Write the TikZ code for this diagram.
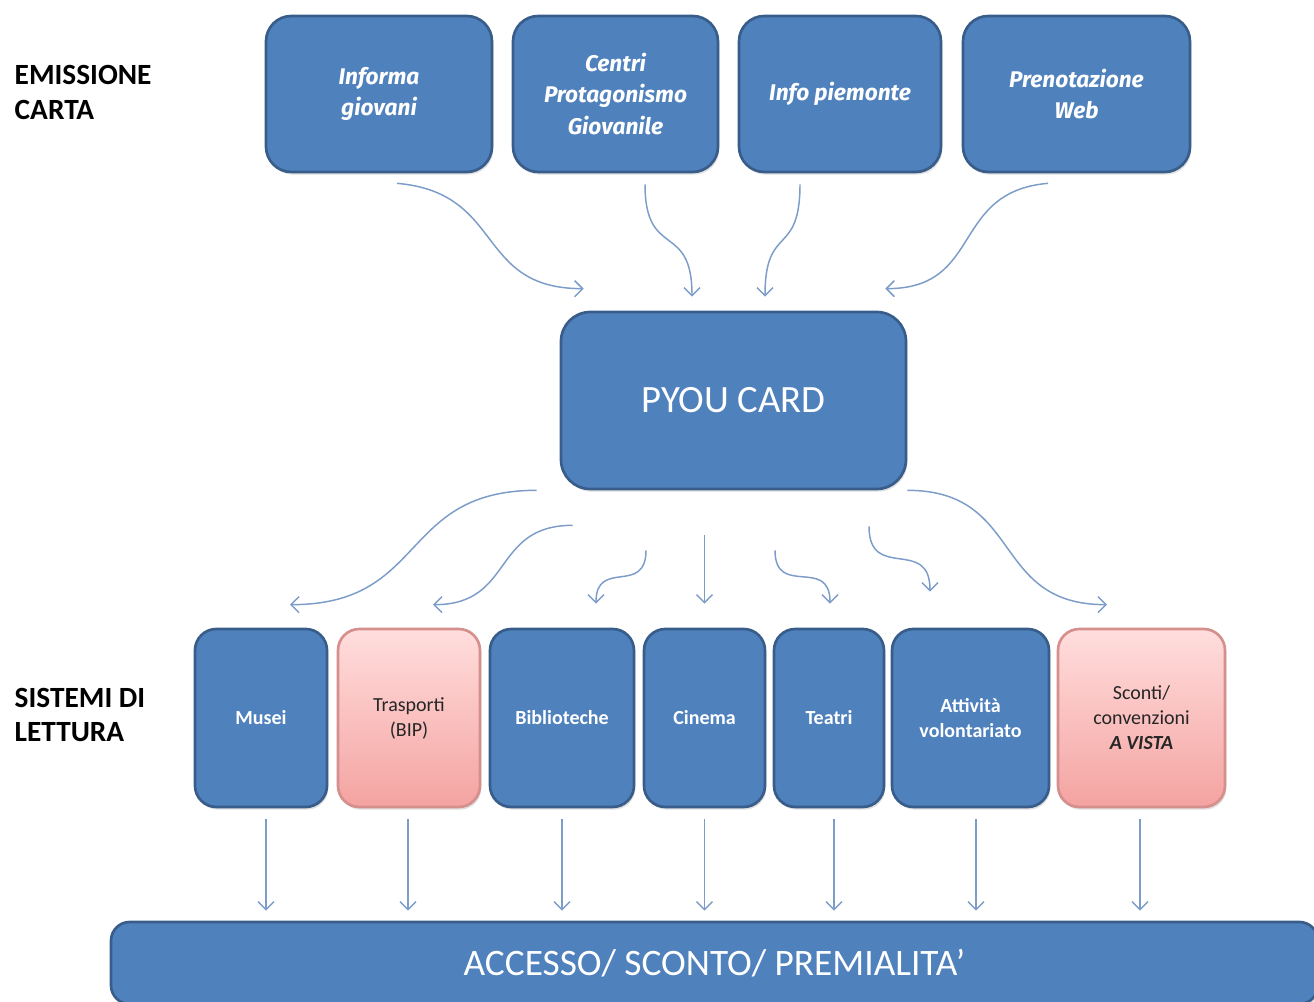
\documentclass[tikz,border=0pt]{standalone}
\usepackage{fontspec}
\setmainfont{Carlito}
\newfontfamily\boxfont{Fira Sans}
\usetikzlibrary{arrows.meta,shadows}
\definecolor{boxblue}{HTML}{4F81BD}
\definecolor{boxline}{HTML}{385D8A}
\definecolor{arrblue}{HTML}{7C9CC9}
\definecolor{pinktop}{HTML}{FFDEDD}
\definecolor{pinkbot}{HTML}{F4A3A1}
\definecolor{pinkline}{HTML}{D58F8C}

\begin{document}
\begin{tikzpicture}[x=0.75pt,y=0.75pt,
  size/.style 2 args={minimum width=#1*0.75pt,minimum height=#2*0.75pt},
  card/.style={draw=boxline,fill=boxblue,line width=2pt,rounded corners=16pt,text=white,
    align=center,inner sep=0pt,drop shadow={opacity=0.25,shadow xshift=1pt,shadow yshift=-2pt}},
  pinkcard/.style={card,draw=pinkline,top color=pinktop,bottom color=pinkbot,text=black!85,
    font=\fontsize{15}{18.75}\selectfont},
  topcard/.style={card,rounded corners=19pt,font=\boxfont\bfseries\itshape\fontsize{17}{23.5}\selectfont},
  lowcard/.style={card,font=\bfseries\fontsize{15}{18.75}\selectfont},
  sidetext/.style={anchor=west,align=left,font=\bfseries\fontsize{22}{26}\selectfont},
  arr/.style={draw=arrblue,line width=1.1pt,-{Straight Barb[length=6pt,width=12pt]}}]

\useasboundingbox (0,0) rectangle (1314,1002);

\node[sidetext] (emis) at (10,909.5) {EMISSIONE\\CARTA};
\node[sidetext] (sist) at (10,287) {SISTEMI DI\\LETTURA};

\node[topcard,size={226}{156}] (ig) at (379,908) {Informa\\giovani};
\node[topcard,size={205}{156}] (cpg) at (615.5,908) {Centri\\Protagonismo\\Giovanile};
\node[topcard,size={202}{156}] (ip) at (840,908) {Info piemonte};
\node[topcard,size={227}{156}] (pw) at (1076.5,908) {Prenotazione\\Web};

\node[card,rounded corners=22pt,size={345}{177},font=\fontsize{29}{34}\selectfont] (pyou) at (733.5,601.5) {PYOU CARD};

\node[lowcard,size={132}{178}] (mus) at (261,284) {Musei};
\node[pinkcard,size={142}{178}] (tra) at (409,284) {Trasporti\\(BIP)};
\node[lowcard,size={144}{178}] (bib) at (562,284) {Biblioteche};
\node[lowcard,size={121}{178}] (cin) at (704.5,284) {Cinema};
\node[lowcard,size={110}{178}] (tea) at (829,284) {Teatri};
\node[lowcard,size={157}{178}] (att) at (970.5,284) {Attività\\volontariato};
\node[pinkcard,size={167}{178}] (sco) at (1141.5,284) {Sconti/\\convenzioni\\\textbf{\textit{A VISTA}}};

\node[card,rounded corners=14pt,size={1207}{82},font=\fontsize{28}{32}\selectfont] (acc) at (714.5,39) {ACCESSO/ SCONTO/ PREMIALITA’};

% emissione -> card
\draw[arr] ([shift={(18,-10)}]ig.south) to[out=-5,in=180,looseness=1.3] ([shift={(24,22)}]pyou.north west);
\draw[arr] ([shift={(29.5,-11)}]cpg.south) to[out=-90,in=90,looseness=1.6] ([shift={(-41.5,14)}]pyou.north);
\draw[arr] ([shift={(-40,-11)}]ip.south) to[out=-90,in=90,looseness=1.6] ([shift={(31.5,14)}]pyou.north);
\draw[arr] ([shift={(-28.5,-10)}]pw.south) to[out=185,in=0,looseness=1.3] ([shift={(-22,22)}]pyou.north east);

% card -> sistemi
\draw[arr] ([shift={(-23,0)}]pyou.south west) to[out=180,in=0,looseness=1.3] ([shift={(29,23)}]mus.north);
\draw[arr] ([shift={(13,-35)}]pyou.south west) to[out=180,in=0,looseness=1.3] ([shift={(24,23)}]tra.north);
\draw[arr] ([shift={(-87.5,-60)}]pyou.south) to[out=-90,in=90,looseness=1.6] ([shift={(34,24)}]bib.north);
\draw[arr] ([shift={(0,93)}]cin.north) -- ([shift={(0,24)}]cin.north);
\draw[arr] ([shift={(41.5,-60)}]pyou.south) to[out=-90,in=90,looseness=1.6] ([shift={(1,24)}]tea.north);
\draw[arr] ([shift={(135.5,-36)}]pyou.south) to[out=-90,in=90,looseness=1.6] ([shift={(-40.5,36)}]att.north);
\draw[arr] (pyou.south east) to[out=0,in=180,looseness=1.3] ([shift={(-34.5,23)}]sco.north);

% sistemi -> accesso
\draw[arr] ([shift={(5,-11)}]mus.south) -- ([shift={(5,10)}]mus.south |- acc.north);
\draw[arr] ([shift={(-1,-11)}]tra.south) -- ([shift={(-1,10)}]tra.south |- acc.north);
\draw[arr] ([shift={(0,-11)}]bib.south) -- ([shift={(0,10)}]bib.south |- acc.north);
\draw[arr] ([shift={(0,-11)}]cin.south) -- ([shift={(0,10)}]cin.south |- acc.north);
\draw[arr] ([shift={(5,-11)}]tea.south) -- ([shift={(5,10)}]tea.south |- acc.north);
\draw[arr] ([shift={(5.5,-11)}]att.south) -- ([shift={(5.5,10)}]att.south |- acc.north);
\draw[arr] ([shift={(-1.5,-11)}]sco.south) -- ([shift={(-1.5,10)}]sco.south |- acc.north);
\end{tikzpicture}
\end{document}
